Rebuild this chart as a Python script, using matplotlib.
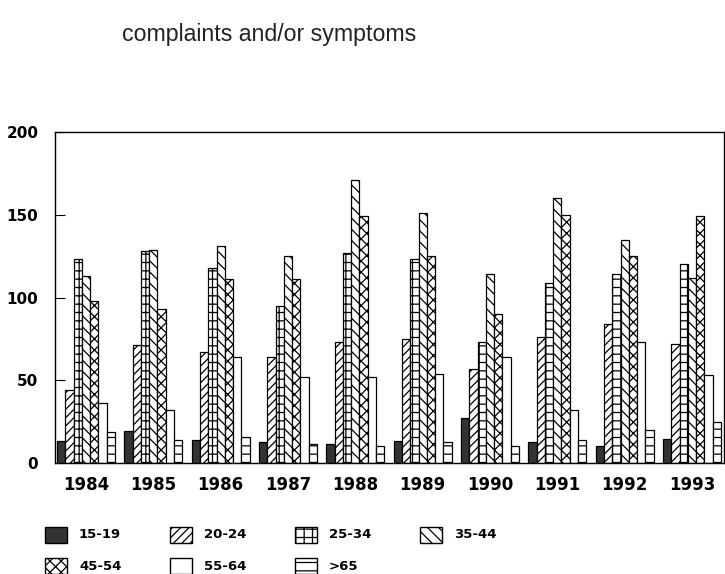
import matplotlib
matplotlib.use("Agg")
import matplotlib.pyplot as plt
import numpy as np
from matplotlib.patches import Rectangle

years = ["1984", "1985", "1986", "1987", "1988", "1989", "1990", "1991", "1992", "1993"]
groups = ["15-19", "20-24", "25-34", "35-44", "45-54", "55-64", ">65"]

v15_19 = [13.5, 19.5, 14, 12.5, 11.5, 13, 27, 12.5, 10, 14.5]
v20_24 = [44, 71, 67, 64, 73, 75, 57, 76, 84, 72]
v25_34 = [123, 128, 118, 95, 127, 123, 73, 109, 114, 120]
v35_44 = [113, 129, 131, 125, 171, 151, 114, 160, 135, 112]
v45_54 = [98, 93, 111, 111, 149, 125, 90, 150, 125, 149]
v55_64 = [36, 32, 64, 52, 52, 54, 64, 32, 73, 53]
v65 = [19, 14, 16, 11.5, 10, 12.5, 10, 14, 20, 25]

series = [v15_19, v20_24, v25_34, v35_44, v45_54, v55_64, v65]
facecolors = ["#333333", "white", "white", "white", "white", "white", "white"]
hatches = [None, "////", "++", "\\\\\\", "xxx", None, "--"]

plt.rcParams["font.family"] = ["Liberation Sans", "DejaVu Sans"]
plt.rcParams["hatch.linewidth"] = 0.9

fig = plt.figure(figsize=(7.25, 5.74), dpi=100)
ax = fig.add_axes([55 / 725, 111 / 574, 669 / 725, 331 / 574])

x = np.arange(len(years))
w = 0.123
for k, vals in enumerate(series):
    off = (k - 3) * w
    ax.bar(x + off, vals, width=w, facecolor=facecolors[k], edgecolor="black",
           linewidth=0.9, hatch=hatches[k])

bold = {"family": "DejaVu Sans", "weight": "bold"}
ax.set_xlim(-0.46, 9.475)
ax.set_ylim(0, 200)
ax.set_yticks([0, 50, 100, 150, 200])
ax.set_yticklabels(["0", "50", "100", "150", "200"], fontsize=11, **bold)
ax.set_xticks(x)
ax.set_xticklabels(years, fontsize=12, **bold)
ax.tick_params(axis="x", length=0, pad=9)
ax.tick_params(axis="y", direction="in", length=7, pad=12)
for s in ax.spines.values():
    s.set_linewidth(1.0)

fig.text(122 / 725, 1 - 35 / 574, "complaints and/or symptoms", fontsize=16.7,
         va="center", ha="left", color="#222222")

# legend
pos = [(45, 527), (170, 527), (295, 527), (420, 527),
       (45, 558), (170, 558), (295, 558)]
for k, (px, py) in enumerate(pos):
    r = Rectangle((px / 725, 1 - (py + 16) / 574), 22 / 725, 16 / 574,
                  transform=fig.transFigure, facecolor=facecolors[k],
                  edgecolor="black", linewidth=1.0, hatch=hatches[k])
    fig.add_artist(r)
    fig.text((px + 34) / 725, 1 - (py + 8) / 574, groups[k], fontsize=9.5,
             va="center", ha="left", **bold)

fig.savefig("out.png", dpi=100)
